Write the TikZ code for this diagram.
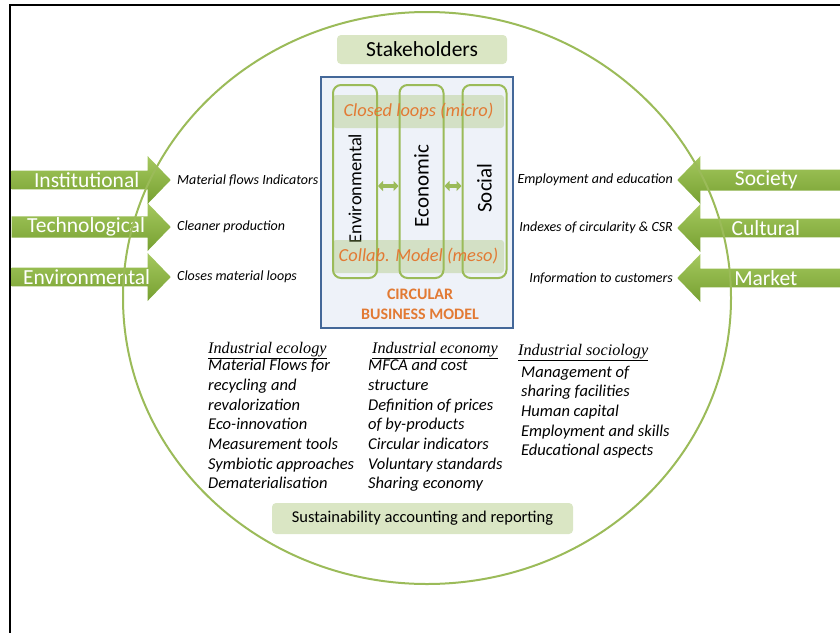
\documentclass[tikz,border=0pt]{standalone}
\usepackage{fontspec}
\setmainfont{Carlito}
\newfontfamily\headfont{Liberation Serif}
\usetikzlibrary{shapes.arrows,arrows.meta,positioning}

\begin{document}
\begin{tikzpicture}[x=1pt,y=-1pt,
  in arrow/.style={single arrow,single arrow head extend=12pt,single arrow tip angle=92,
    minimum height=159pt,minimum width=48pt,inner sep=0pt,
    top color=arrowtop,bottom color=arrowbot,text=white,font=\fontsize{21.5}{24}\selectfont},
  out arrow/.style={in arrow,minimum height=168pt,shape border rotate=180},
  side text/.style={inner sep=0pt,font=\fontsize{14}{16}\selectfont\itshape},
  pillar/.style={draw=ringgreen,line width=2pt,rounded corners=8pt,rotate=90,
    minimum width=193pt,minimum height=44pt,font=\fontsize{21}{24}\selectfont},
  band/.style={fill=ringgreen,fill opacity=0.32,text opacity=1,rounded corners=3pt,
    minimum width=171pt,minimum height=33pt,text=bmorange,font=\fontsize{18.4}{21}\selectfont\itshape},
  link/.style={draw=ringgreen,line width=3.5pt,
    {Triangle[length=5pt,width=10pt]}-{Triangle[length=5pt,width=10pt]}},
  tag/.style={fill=taggreen,rounded corners=4pt},
  head/.style={inner sep=0pt,anchor=base west,font=\fontsize{16.2}{19}\selectfont\headfont\itshape},
  list/.style={inner sep=0pt,anchor=north west,align=left,font=\fontsize{16.5}{19.7}\selectfont\itshape}]
  \definecolor{ringgreen}{RGB}{155,187,89}
  \definecolor{taggreen}{RGB}{218,230,196}
  \definecolor{arrowtop}{RGB}{165,200,95}
  \definecolor{arrowbot}{RGB}{118,160,48}
  \definecolor{bmblue}{RGB}{68,104,153}
  \definecolor{bmfill}{RGB}{238,242,249}
  \definecolor{bmorange}{RGB}{226,122,52}
  \useasboundingbox (0,0) rectangle (840,632);
  \draw[line width=1.6pt] (10,640) -- (10,5) -- (850,5);

  \node[tag,minimum width=170pt,minimum height=29pt,font=\fontsize{21.5}{24}\selectfont] (stake) at (422,49.5) {Stakeholders};
  \node[draw=bmblue,fill=bmfill,line width=1.5pt,minimum width=192pt,minimum height=251pt] (bm) at (417,202.5) {};
  \node[pillar,font=\fontsize{18.5}{22}\selectfont] (env) at (355,181.5) {Environmental\hspace*{14pt}};
  \node[pillar] (eco) at (421.5,181.5) {Economic\hspace*{9pt}};
  \node[pillar] (soc) at (484.5,181.5) {Social\hspace*{13pt}};
  \node[band] (micro) at (418.5,111.5) {Closed loops (micro)};
  \node[band] (meso) at (418.5,256.5) {Collab. Model (meso)};
  \node[align=center,text=bmorange,font=\fontsize{16}{20}\selectfont\bfseries] (cbm) at (420,304) {CIRCULAR\\BUSINESS MODEL};

  \draw[link] ([yshift=-4.5pt]env.south) -- ([yshift=-4.5pt]eco.north);
  \draw[link] ([yshift=-4.5pt]eco.south) -- ([yshift=-4.5pt]soc.north);

  \node[in arrow,anchor=tip] (inst) at (171,180) {Institutional};
  \node[in arrow,anchor=tip] (tech) at (171,227) {Technological};
  \node[in arrow,anchor=tip] (envi) at (171,277) {Environmental};
  \node[out arrow,anchor=tip] (socy) at (677,180) {Society};
  \node[out arrow,anchor=tip] (cult) at (677,228) {Cultural};
  \node[out arrow,anchor=tip] (mkt) at (677,278) {Market};

  \coordinate (c) at (427,298);
  \draw[ringgreen,line width=2pt] (c) ellipse [x radius=304,y radius=286];

  \node[side text,right=6pt of inst.tip] {Material flows Indicators};
  \node[side text,right=6pt of tech.tip] {Cleaner production};
  \node[side text,right=6pt of envi.tip] {Closes material loops};
  \node[side text,left=4pt of socy.tip] {Employment and education};
  \node[side text,left=4pt of cult.tip] {Indexes of circularity \& CSR};
  \node[side text,left=4pt of mkt.tip] {Information to customers};

  \node[head] (ie) at (208,353) {\underline{Industrial ecology}};
  \node[head] (iec) at (372,353) {\underline{Industrial economy}};
  \node[head] (is) at (518,355) {\underline{Industrial sociology}};
  \node[list] (ielist) at (208,359) {Material Flows for\\recycling and\\revalorization\\Eco-innovation\\Measurement tools\\Symbiotic approaches\\Dematerialisation};
  \node[list] (ieclist) at (368,359) {MFCA and cost\\structure\\Definition of prices\\of by-products\\Circular indicators\\Voluntary standards\\Sharing economy};
  \node[list] (islist) at (521,365.5) {Management of\\sharing facilities\\Human capital\\Employment and skills\\Educational aspects};

  \node[tag,minimum width=301pt,minimum height=31pt,font=\fontsize{16.5}{19}\selectfont] (sar) at (422.5,518.5) {Sustainability accounting and reporting};
\end{tikzpicture}
\end{document}
